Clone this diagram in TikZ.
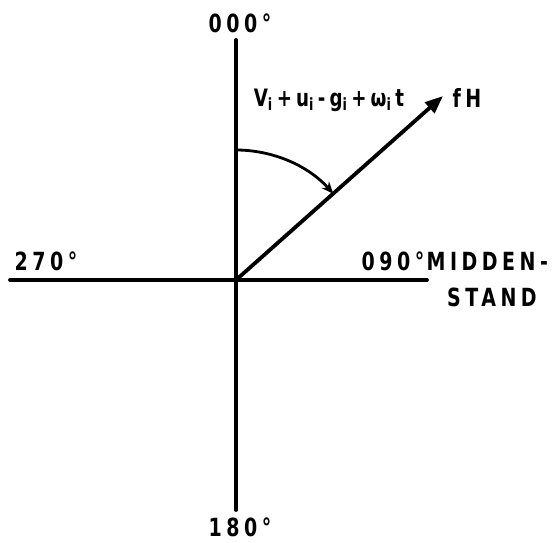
\documentclass[tikz,border=0pt]{standalone}
\usepackage{fontspec}
\setmainfont{DejaVu Sans}[FakeStretch=0.76,LetterSpace=18]
\usetikzlibrary{arrows.meta,positioning}

\begin{document}
\begin{tikzpicture}[x=1pt,y=1pt,
  every node/.style={font=\fontsize{25}{28}\selectfont\bfseries,inner sep=1pt},
  axis/.style={line width=3.8pt,line cap=round},
  vec/.style={line width=3.8pt,-{Triangle[length=18pt,width=14pt]}},
  hoek/.style={line width=2.8pt,-{Stealth[length=12pt,width=10pt]}},
]
\useasboundingbox (0,0) rectangle (554,542);
% axes
\coordinate (O) at (236,262);
\coordinate (N) at (236,502);
\coordinate (S) at (236,32);
\coordinate (W) at (10,262);
\coordinate (E) at (427,262);
\coordinate (F) at (443,446);
\draw[axis] (N) -- (S);
\draw[axis] (W) -- (E);

% vector and angle
\draw[vec] (O) -- (F);
\coordinate (A) at (236,392);
\draw[hoek] (A) arc[start angle=90,end angle=41.6,radius=130];

% labels
\node (n000) at (240,519) {000°};
\node (n180) at (240,15) {180°};
\node (n270) at (46,281) {270°};
\node (n090) at (393,281) {090°};
\node[right=0pt of n090] (midden) {MIDDEN-};
\node (stand) at (492,245) {STAND};
\node[font=\fontsize{24}{26}\selectfont\bfseries] (formule) at (329,442)
  {V\textsubscript{i}\,+\,u\textsubscript{i}\,-\,g\textsubscript{i}\,+\,ω\textsubscript{i}\,t};
\node (fH) at (467,444) {fH};
\end{tikzpicture}
\end{document}
